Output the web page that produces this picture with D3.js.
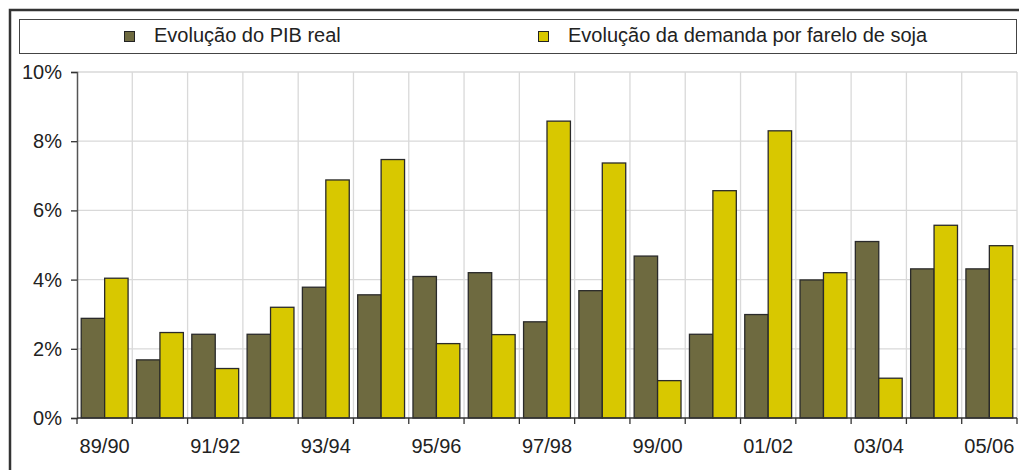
<!DOCTYPE html>
<html>
<head>
<meta charset="utf-8">
<script src="https://cdn.jsdelivr.net/npm/d3@7"></script>
<style>
  body { margin: 0; background: #fff; }
  svg { display: block; font-family: "Liberation Sans", Arial, sans-serif; }
</style>
</head>
<body>
<div id="chart"></div>
<script>
// safras, PIB vs demanda por farelo de soja (% a.a.)
const safras = ["89/90","90/91","91/92","92/93","93/94","94/95","95/96","96/97","97/98",
  "98/99","99/00","00/01","01/02","02/03","03/04","04/05","05/06"];
const pib = [2.88, 1.68, 2.42, 2.42, 3.78, 3.56, 4.09, 4.2, 2.78, 3.68, 4.68, 2.42, 2.99, 3.99, 5.1, 4.31, 4.31];
const farelo = [4.04, 2.47, 1.43, 3.2, 6.88, 7.47, 2.15, 2.41, 8.58, 7.37, 1.08, 6.57, 8.3, 4.2, 1.15, 5.57, 4.98];
const seriesNames = ["Evolução do PIB real", "Evolução da demanda por farelo de soja"];
const yTicks = [0, 2, 4, 6, 8, 10];

const width = 1019, height = 470;
const margin = {left: 77, right: 1, top: 72, bottom: 52};
const colors = ["#6e6a40", "#d8c800"];
const fontSize = 20;

const svg = d3.select("#chart").append("svg")
  .attr("width", width)
  .attr("height", height);

// moldura externa
svg.append("path")
  .attr("d", `M10,${height} V10 H${width}`)
  .attr("fill", "none")
  .attr("stroke", "#333")
  .attr("stroke-width", 2.5);

// legenda
svg.append("rect")
  .attr("x", 19.5).attr("y", 19.5)
  .attr("width", 997).attr("height", 34)
  .attr("fill", "#fff")
  .attr("stroke", "#444")
  .attr("stroke-width", 1);

const legX = [124, 538];
seriesNames.forEach((name, i) => {
  svg.append("rect")
    .attr("x", legX[i] + 0.5).attr("y", 31.5)
    .attr("width", 10).attr("height", 10)
    .attr("fill", colors[i])
    .attr("stroke", "#222");
  svg.append("text")
    .attr("x", legX[i] + 30).attr("y", 42)
    .attr("font-size", fontSize)
    .attr("fill", "#222")
    .text(name);
});

const x = d3.scaleBand()
  .domain(safras)
  .range([margin.left, width - margin.right - 1]);

const x1 = d3.scaleBand()
  .domain([0, 1])
  .range([0, x.bandwidth()])
  .paddingOuter(0.18);

const y = d3.scaleLinear()
  .domain([0, 10])
  .range([height - margin.bottom, margin.top]);

// grade
const grid = svg.append("g").attr("stroke", "#d9d9d9").attr("stroke-width", 1.3);
grid.selectAll("line.h")
  .data(yTicks.filter(d => d > 0))
  .join("line")
  .attr("class", "h")
  .attr("x1", margin.left).attr("x2", x.range()[1])
  .attr("y1", d => y(d)).attr("y2", d => y(d));
grid.selectAll("line.v")
  .data(safras.slice(1).concat(["end"]))
  .join("line")
  .attr("class", "v")
  .attr("x1", (d, i) => x.range()[0] + (i + 1) * x.step())
  .attr("x2", (d, i) => x.range()[0] + (i + 1) * x.step())
  .attr("y1", y(10)).attr("y2", y(0));

// barras
const groups = svg.append("g")
  .selectAll("g")
  .data(safras.map((s, i) => ({s, vals: [pib[i], farelo[i]]})))
  .join("g")
  .attr("transform", d => `translate(${x(d.s)},0)`);

groups.selectAll("rect")
  .data(d => d.vals)
  .join("rect")
  .attr("x", (d, i) => x1(i))
  .attr("width", x1.bandwidth())
  .attr("y", d => y(d))
  .attr("height", d => y(0) - y(d))
  .attr("fill", (d, i) => colors[i])
  .attr("stroke", "#2a2a2a")
  .attr("stroke-width", 1.3);

// eixo y
const yAxis = svg.append("g")
  .attr("transform", `translate(${margin.left},0)`)
  .call(d3.axisLeft(y).tickValues(yTicks).tickFormat(d => d + "%").tickSize(6).tickPadding(9));
yAxis.select(".domain").attr("stroke", "#555").attr("stroke-width", 1.5);
yAxis.selectAll(".tick line").attr("stroke", "#333").attr("stroke-width", 1.3);
yAxis.selectAll("text").attr("font-size", fontSize).attr("fill", "#222")
  .attr("font-family", "Liberation Sans, Arial, sans-serif");

// eixo x
const xAxisG = svg.append("g")
  .attr("transform", `translate(0,${y(0)})`);
xAxisG.append("line")
  .attr("x1", margin.left).attr("x2", x.range()[1])
  .attr("stroke", "#333").attr("stroke-width", 1.5);
xAxisG.selectAll("line.tk")
  .data(d3.range(safras.length + 1))
  .join("line")
  .attr("class", "tk")
  .attr("x1", i => x.range()[0] + i * x.step())
  .attr("x2", i => x.range()[0] + i * x.step())
  .attr("y1", 0).attr("y2", 6)
  .attr("stroke", "#333").attr("stroke-width", 1.3);
xAxisG.selectAll("text")
  .data(safras.filter((d, i) => i % 2 === 0))
  .join("text")
  .attr("x", d => x(d) + x.bandwidth() / 2)
  .attr("y", 35)
  .attr("text-anchor", "middle")
  .attr("font-size", fontSize)
  .attr("fill", "#222")
  .text(d => d);
</script>
</body>
</html>
